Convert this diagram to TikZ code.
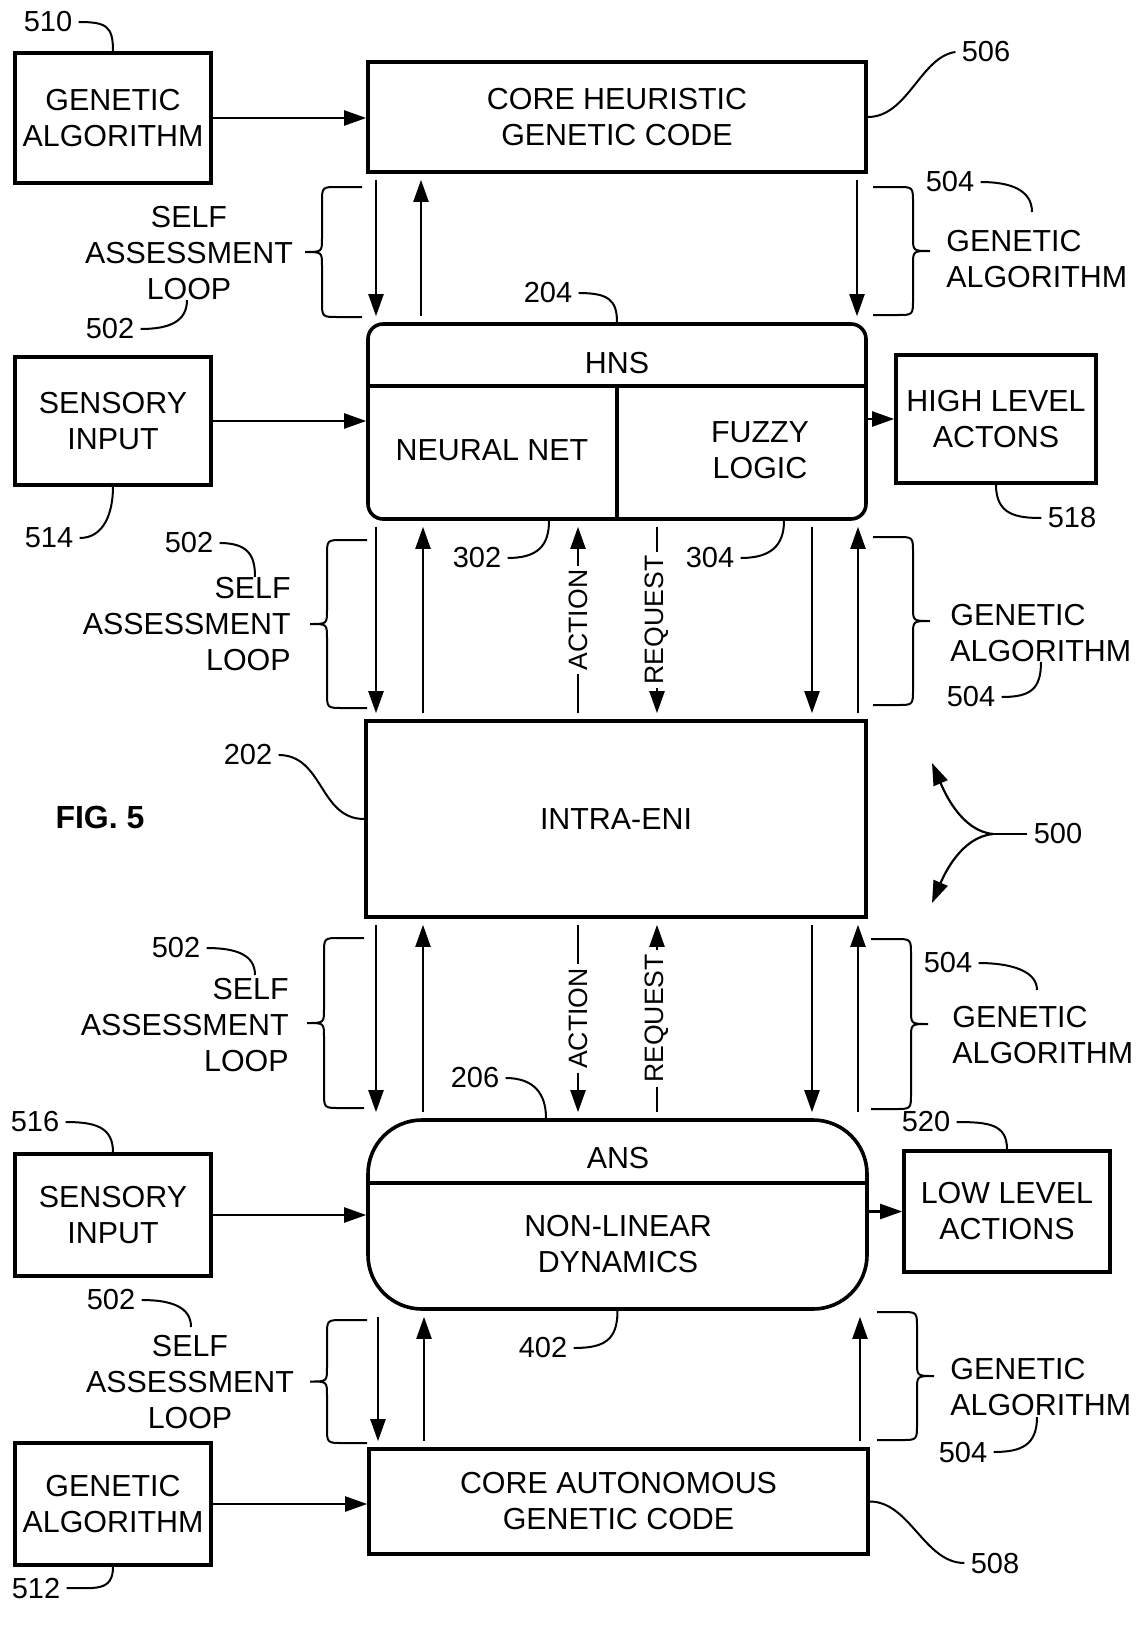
\documentclass[tikz,border=0pt]{standalone}
\usepackage{fontspec}
\setmainfont{Liberation Sans}
\usetikzlibrary{arrows.meta, positioning, calc}

\newcommand{\txtsize}{\fontsize{15.2}{18}\selectfont}
\newcommand{\numsize}{\fontsize{14.5}{17}\selectfont}
\newcommand{\dirsize}{\fontsize{13.3}{16}\selectfont}

\tikzstyle{block} = [rectangle, draw=black, line width=1.8pt, text centered, align=center, font=\txtsize, inner sep=0pt]
\tikzstyle{rblock} = [block, rounded corners=7.5pt]
\tikzstyle{txt} = [font=\txtsize, inner sep=0pt]
\tikzstyle{num} = [font=\numsize, inner sep=3pt]
\tikzstyle{lead} = [line width=1pt]
\tikzstyle{arrow} = [line width=1.1pt, -{Triangle[length=11pt,width=7.5pt]}]
\tikzstyle{varrow} = [arrow, shorten >=3pt, shorten <=3pt]
\tikzstyle{dirlbl} = [midway, rotate=90, fill=white, font=\dirsize, inner sep=2pt]
\tikzstyle{brc} = [line width=1pt]

% curly brace: end x, top y, bottom y, side (1 = left, -1 = right)
\newcommand{\curly}[4]{%
  \begin{scope}[shift={(#1,0)}, xscale=#4]
  \draw[brc] (0,#2) -- (-24,#2) .. controls (-40,#2) .. (-40,#2+16)
    -- (-40,{(#2+#3)/2-14}) .. controls (-40,{(#2+#3)/2}) .. (-57,{(#2+#3)/2})
    .. controls (-40,{(#2+#3)/2}) .. (-40,{(#2+#3)/2+14})
    -- (-40,#3-16) .. controls (-40,#3) .. (-24,#3) -- (0,#3);
  \end{scope}}

\begin{document}
\begin{tikzpicture}[x=0.5pt, y=-0.5pt]
\useasboundingbox (0,0) rectangle (1135,1627);

% centre column
\node (core) [block, minimum width=249pt, minimum height=55pt] at (617,117) {CORE HEURISTIC\\GENETIC CODE};
\node (hns) [rblock, minimum width=249pt, minimum height=97.5pt] at (617,421.5) {};
\node (eni) [block, minimum width=250pt, minimum height=98pt] at (616,819) {INTRA-ENI};
\node (ans) [block, rounded corners=27pt, minimum width=249.5pt, minimum height=94.5pt] at (617.5,1214.5) {};
\node (cac) [block, minimum width=249.5pt, minimum height=52.5pt] at (618.5,1501.5) {CORE AUTONOMOUS\\GENETIC CODE};

\draw[line width=1.8pt] (hns.west |- 0,386) -- (hns.east |- 0,386);
\draw[line width=1.8pt] (hns.center |- 0,386) -- (hns.south);
\node (hnslbl) [txt] at (617,363) {HNS};
\node (neural) [txt] at (492,450) {NEURAL NET};
\node (fuzzy) [txt, align=center] at (760,450) {FUZZY\\LOGIC};

\draw[line width=1.8pt] (ans.west |- 0,1183) -- (ans.east |- 0,1183);
\node (anslbl) [txt] at (618,1158) {ANS};
\node (nld) [txt, align=center] at (618,1244) {NON-LINEAR\\DYNAMICS};

% side boxes
\node (ga1) [block, minimum width=98pt, minimum height=65pt] at (113,118) {GENETIC\\ALGORITHM};
\node (si1) [block, minimum width=98pt, minimum height=64pt] at (113,421) {SENSORY\\INPUT};
\node (si2) [block, minimum width=98pt, minimum height=61pt] at (113,1215) {SENSORY\\INPUT};
\node (ga2) [block, minimum width=98pt, minimum height=61pt] at (113,1504) {GENETIC\\ALGORITHM};
\node (hla) [block, minimum width=100pt, minimum height=64pt] at (996,419) {HIGH LEVEL\\ACTONS};
\node (lla) [block, minimum width=103pt, minimum height=60.5pt] at (1007,1211.5) {LOW LEVEL\\ACTIONS};

\draw[arrow] (ga1.east) -- (ga1.east -| core.west);
\draw[arrow] (si1.east) -- (si1.east -| hns.west);
\draw[arrow] (hns.east |- hla.west) -- (hla.west);
\draw[arrow] (si2.east) -- (si2.east -| ans.west);
\draw[arrow] (ans.east |- lla.west) -- (lla.west);
\draw[arrow] (ga2.east) -- (ga2.east -| cac.west);

% core heuristic <-> HNS
\draw[varrow] (core.south -| 376,0) -- (hns.north -| 376,0);
\draw[varrow] (hns.north -| 421,0) -- (core.south -| 421,0);
\draw[varrow] (core.south -| 857,0) -- (hns.north -| 857,0);

% HNS <-> intra-ENI
\draw[varrow] (hns.south -| 376,0) -- (eni.north -| 376,0);
\draw[varrow] (eni.north -| 423,0) -- (hns.south -| 423,0);
\draw[varrow] (eni.north -| 578,0) -- node[dirlbl] {ACTION} (hns.south -| 578,0);
\draw[varrow] (hns.south -| 657,0) -- node[dirlbl] {REQUEST} (eni.north -| 657,0);
\draw[varrow] (hns.south -| 812,0) -- (eni.north -| 812,0);
\draw[varrow] (eni.north -| 858,0) -- (hns.south -| 858,0);

% intra-ENI <-> ANS
\draw[varrow] (eni.south -| 376,0) -- (ans.north -| 376,0);
\draw[varrow] (ans.north -| 423,0) -- (eni.south -| 423,0);
\draw[varrow] (eni.south -| 578,0) -- node[dirlbl] {ACTION} (ans.north -| 578,0);
\draw[varrow] (ans.north -| 657,0) -- node[dirlbl] {REQUEST} (eni.south -| 657,0);
\draw[varrow] (eni.south -| 812,0) -- (ans.north -| 812,0);
\draw[varrow] (ans.north -| 858,0) -- (eni.south -| 858,0);

% ANS <-> core autonomous
\draw[varrow] (ans.south -| 378,0) -- (cac.north -| 378,0);
\draw[varrow] (cac.north -| 424,0) -- (ans.south -| 424,0);
\draw[varrow] (cac.north -| 860,0) -- (ans.south -| 860,0);

% braces
\curly{362}{187}{317}{1}
\curly{367}{540}{708}{1}
\curly{364}{938}{1108}{1}
\curly{367}{1320}{1443}{1}
\curly{873}{187}{315}{-1}
\curly{873}{537}{705}{-1}
\curly{871}{939}{1109}{-1}
\curly{877}{1312}{1440}{-1}

\node (sal1) [txt, align=center] at (189,253) {SELF\\ASSESSMENT\\LOOP};
\node (sal2) [txt, align=right, anchor=east] at (291,624) {SELF\\ASSESSMENT\\LOOP};
\node (sal3) [txt, align=right, anchor=east] at (289,1025) {SELF\\ASSESSMENT\\LOOP};
\node (sal4) [txt, align=center] at (190,1382) {SELF\\ASSESSMENT\\LOOP};
\node (gal1) [txt, align=left, anchor=west] at (946,259) {GENETIC\\ALGORITHM};
\node (gal2) [txt, align=left, anchor=west] at (950,633) {GENETIC\\ALGORITHM};
\node (gal3) [txt, align=left, anchor=west] at (952,1035) {GENETIC\\ALGORITHM};
\node (gal4) [txt, align=left, anchor=west] at (950,1387) {GENETIC\\ALGORITHM};

\node (fig) [font=\fontsize{16}{19}\selectfont\bfseries] at (100,817) {FIG. 5};

% reference numerals
\node (n510) [num] at (48,22) {510};
\draw[lead] (n510.east) .. controls +(28,0) and +(0,-25) .. (ga1.north);
\node (n506) [num] at (986,52) {506};
\draw[lead] (core.east) .. controls +(40,0) and +(-35,5) .. (n506.west);
\node (n504a) [num] at (950,182) {504};
\coordinate (t504a) at (1032,212);
\draw[lead] (n504a.east) .. controls +(30,0) and +(0,-22) .. (t504a);
\node (n502a) [num] at (110,329) {502};
\coordinate (t502a) at (187,300);
\draw[lead] (n502a.east) .. controls +(28,0) and +(0,22) .. (t502a);
\node (n204) [num] at (548,293) {204};
\draw[lead] (n204.east) .. controls +(30,0) and +(0,-22) .. (hns.north);
\node (n514) [num] at (49,538) {514};
\draw[lead] (n514.east) .. controls +(25,0) and +(0,25) .. (si1.south);
\node (n518) [num] at (1072,518) {518};
\draw[lead] (hla.south) .. controls +(0,30) and +(-25,0) .. (n518.west);
\node (n302) [num] at (477,558) {302};
\draw[lead] (n302.east) .. controls +(30,0) and +(0,25) .. (hns.south -| 549,0);
\node (n304) [num] at (710,558) {304};
\draw[lead] (n304.east) .. controls +(30,0) and +(0,25) .. (hns.south -| 784,0);
\node (n502b) [num] at (189,543) {502};
\coordinate (t502b) at (255,577);
\draw[lead] (n502b.east) .. controls +(30,0) and +(0,-20) .. (t502b);
\node (n504b) [num] at (971,697) {504};
\coordinate (t504b) at (1041,662);
\draw[lead] (n504b.east) .. controls +(28,0) and +(0,28) .. (t504b);
\node (n202) [num] at (248,755) {202};
\draw[lead] (n202.east) .. controls +(45,0) and +(-45,0) .. (eni.west);
\node (n500) [num] at (1058,834) {500};
\coordinate (j500) at (993,834);
\coordinate (t500a) at (932,763);
\coordinate (t500b) at (932,903);
\draw[lead] (n500.west) -- (j500);
\draw[arrow] (j500) .. controls +(-32,-3) and +(12,28) .. (t500a);
\draw[arrow] (j500) .. controls +(-32,3) and +(12,-28) .. (t500b);
\node (n206) [num] at (475,1078) {206};
\draw[lead] (n206.east) .. controls +(28,0) and +(0,-25) .. (ans.north -| 546,0);
\node (n504c) [num] at (948,963) {504};
\coordinate (t504c) at (1037,990);
\draw[lead] (n504c.east) .. controls +(30,0) and +(0,-20) .. (t504c);
\node (n502c) [num] at (176,948) {502};
\coordinate (t502c) at (255,975);
\draw[lead] (n502c.east) .. controls +(30,0) and +(0,-20) .. (t502c);
\node (n516) [num] at (35,1122) {516};
\draw[lead] (n516.east) .. controls +(30,0) and +(0,-25) .. (si2.north);
\node (n520) [num] at (926,1122) {520};
\draw[lead] (n520.east) .. controls +(32,0) and +(0,-25) .. (lla.north);
\node (n402) [num] at (543,1348) {402};
\draw[lead] (n402.east) .. controls +(30,0) and +(0,30) .. (ans.south);
\node (n502d) [num] at (111,1300) {502};
\coordinate (t502d) at (191,1327);
\draw[lead] (n502d.east) .. controls +(30,0) and +(0,-20) .. (t502d);
\node (n504d) [num] at (963,1452) {504};
\coordinate (t504d) at (1037,1417);
\draw[lead] (n504d.east) .. controls +(28,0) and +(0,28) .. (t504d);
\node (n512) [num] at (36,1588) {512};
\draw[lead] (n512.east) .. controls +(28,0) and +(0,25) .. (ga2.south);
\node (n508) [num] at (995,1563) {508};
\draw[lead] (cac.east) .. controls +(40,0) and +(-40,0) .. (n508.west);

\end{tikzpicture}
\end{document}
